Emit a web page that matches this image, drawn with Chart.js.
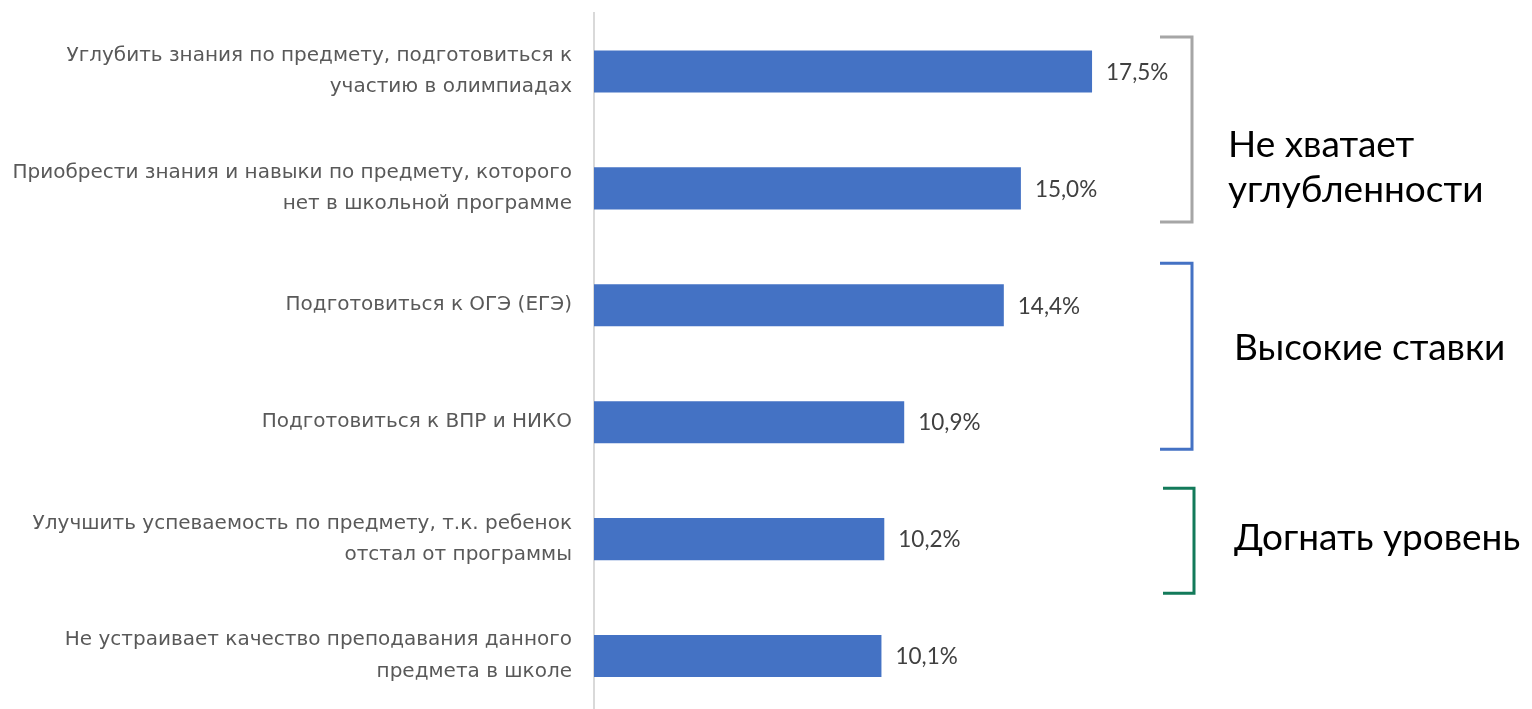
<!DOCTYPE html>
<html>
<head>
<meta charset="utf-8">
<script src="https://cdn.jsdelivr.net/npm/chart.js@4"></script>
<style>
  html, body { margin: 0; padding: 0; background: #fff; overflow: hidden; }
  #wrap { width: 1532px; height: 716px; }
</style>
</head>
<body>
<div id="wrap"><canvas id="chart" width="1532" height="716"></canvas></div>
<script>
// --- Data ---
const LABELS = [
  ['Углубить знания по предмету, подготовиться к', 'участию в олимпиадах'],
  ['Приобрести знания и навыки по предмету, которого', 'нет в школьной программе'],
  'Подготовиться к ОГЭ (ЕГЭ)',
  'Подготовиться к ВПР и НИКО',
  ['Улучшить успеваемость по предмету, т.к. ребенок', 'отстал от программы'],
  ['Не устраивает качество преподавания данного', 'предмета в школе'],
];
const VALUES = [17.5, 15.0, 14.4, 10.9, 10.2, 10.1];

const GROUP_TEXT = [['Не хватает', 'углубленности'], ['Высокие ставки'], ['Догнать уровень']];
const GROUP_FROM = [0, 2, 4];
const GROUP_TO = [1, 3, 4];
const GROUP_COLORS = ['#a6a6a6', '#4472c4', '#137a5a'];

const FONT = 'Lato, "Noto Sans", sans-serif';
const LABEL_FONT = '"DejaVu Sans", sans-serif';

// --- value labels + brackets ---
const extras = {
  id: 'extras',
  afterDatasetsDraw(chart) {
    const ctx = chart.ctx;
    const meta = chart.getDatasetMeta(0);
    ctx.save();
    ctx.font = '22.5px ' + FONT;
    ctx.fillStyle = '#404040';
    ctx.textBaseline = 'middle';
    ctx.textAlign = 'left';
    meta.data.forEach((bar, i) => {
      ctx.fillText(VALUES[i].toFixed(1).replace('.', ',') + '%', bar.x + 14, bar.y + 1);
    });

    const y = chart.scales.y;
    // per-group bracket extents (px around the bar centres) and text shift
    const pad = [[-34.5, 33.6, 38, 1160, 1192], [-42, 27, -16, 1160, 1192], [-51, 54, -1, 1163, 1194]];
    GROUP_TEXT.forEach((lines, g) => {
      const y0 = y.getPixelForValue(GROUP_FROM[g]);
      const y1 = y.getPixelForValue(GROUP_TO[g]);
      const [dt, db, shift, xl, xr] = pad[g];
      ctx.strokeStyle = GROUP_COLORS[g];
      ctx.lineWidth = 3;
      ctx.beginPath();
      ctx.moveTo(xl, y0 + dt);
      ctx.lineTo(xr, y0 + dt);
      ctx.lineTo(xr, y1 + db);
      ctx.lineTo(xl, y1 + db);
      ctx.stroke();

      ctx.fillStyle = '#000';
      ctx.font = '37px ' + FONT;
      const mid = (y0 + y1) / 2 + shift;
      const lh = 45;
      lines.forEach((t, k) => {
        ctx.fillText(t, g === 0 ? 1228 : 1234, mid + (k - (lines.length - 1) / 2) * lh);
      });
    });
    ctx.restore();
  }
};

new Chart(document.getElementById('chart'), {
  type: 'bar',
  data: {
    labels: LABELS,
    datasets: [{
      data: VALUES,
      backgroundColor: '#4472c4',
      barPercentage: 0.72,
      categoryPercentage: 0.5,
    }]
  },
  options: {
    indexAxis: 'y',
    responsive: false,
    animation: false,
    layout: { autoPadding: false, padding: { top: 13, bottom: 1.5, right: 368.8, left: 0 } },
    plugins: { legend: { display: false }, tooltip: { enabled: false } },
    scales: {
      x: { display: false, min: 0, max: 20 },
      y: {
        afterFit: s => {
          s.width = 594;
          s.paddingTop = 0; s.paddingBottom = 0; s.paddingLeft = 0; s.paddingRight = 0;
        },
        grid: { display: false },
        border: { display: true, color: '#d9d9d9', width: 2 },
        ticks: {
          color: '#595959',
          padding: 14,
          font: { family: LABEL_FONT, size: 20, lineHeight: 1.58 },
        }
      }
    }
  },
  plugins: [extras]
});
</script>
</body>
</html>
